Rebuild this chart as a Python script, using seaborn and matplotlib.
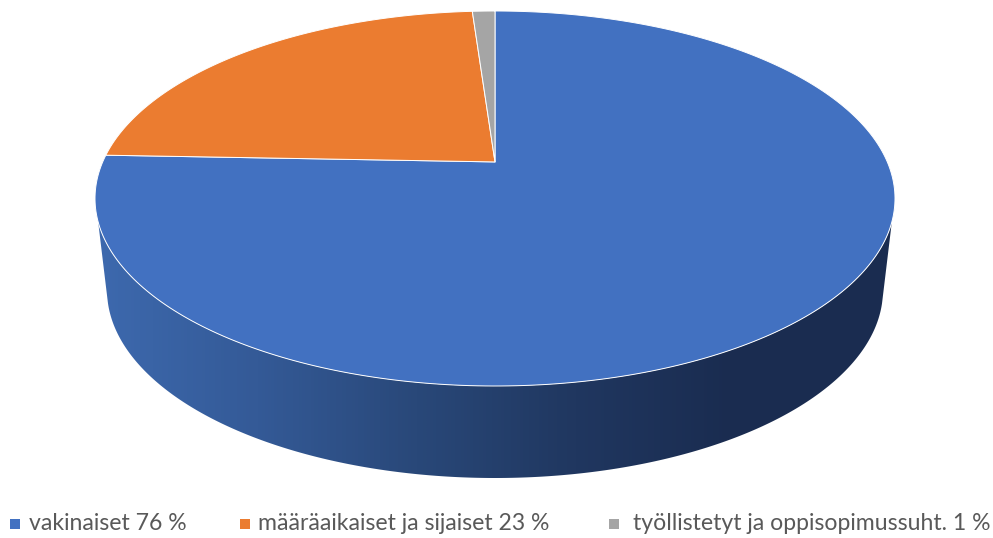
import numpy as np
import matplotlib
matplotlib.use('Agg')
import matplotlib.pyplot as plt
from matplotlib.patches import Polygon
import seaborn as sns

labels = ['vakinaiset 76 %', 'määräaikaiset ja sijaiset 23 %', 'työllistetyt ja oppisopimussuht. 1 %']
shares = [75.6, 23.3, 1.1]
colors = ['#4271C1', '#EB7C30', '#A5A5A5']

# gradient of the pie's outer wall, left to right
wall_colors = ['#3D69AE', '#345A97', '#294879', '#203760', '#1A2C50', '#1A2C50']

# geometry of the tilted pie, in pixels
CX, CY, A, B = 495, 198.5, 400, 187.5
CX2, CY2, A2, B2 = 495, 290, 388, 188
APEX = 0.195  # how far the pie centre sits above the middle of the ellipse


def project(t):
    # t clockwise from 12 o'clock, perspective keeps the rim on the ellipse
    x, y = np.sin(t), np.cos(t)
    d = 1 + APEX * y
    u = x * np.sqrt(1 - APEX ** 2) / d
    v = (y + APEX) / d
    return CX + A * u, CY - B * v


sns.set_theme(style='white')
plt.rcParams['font.family'] = ['Lato', 'DejaVu Sans']

fig = plt.figure(figsize=(9.93, 5.38), dpi=100)
ax = fig.add_axes([0, 0, 1, 1])
ax.axis('off')

# outer wall
s = np.linspace(0, np.pi, 400)
front_top_x = CX + A * np.cos(s)
front_top_y = CY + B * np.sin(s)
keep = front_top_y >= 221
bottom_x = CX2 - A2 * np.cos(s)
bottom_y = CY2 + B2 * np.sin(s)
keep2 = bottom_y >= 303
wall = Polygon(np.r_[np.c_[front_top_x[keep], front_top_y[keep]], np.c_[bottom_x[keep2], bottom_y[keep2]]],
               closed=True, transform=ax.transData, fc='none', ec='none')
ax.add_patch(wall)
cmap = sns.blend_palette(wall_colors, as_cmap=True)
im = ax.imshow(np.linspace(0, 1, 256).reshape(1, -1), cmap=cmap, aspect='auto',
               extent=[95, 895, 490, 200], interpolation='bilinear', zorder=1)
im.set_clip_path(wall)
ax.set_xlim(0, 993)
ax.set_ylim(538, 0)

# top face
edges = np.r_[0, np.cumsum(shares)] / np.sum(shares) * 2 * np.pi
for i, c in enumerate(colors):
    t = np.linspace(edges[i], edges[i + 1], 300)
    px, py = project(t)
    ax.fill(np.r_[CX, px], np.r_[CY - B * APEX, py], fc=c, ec='white', lw=0.7, zorder=2, joinstyle='round')

# legend
square_x = [15, 245, 614]
text_x = [29, 258, 633]
for c, lab, sx, tx in zip(colors, labels, square_x, text_x):
    ax.scatter([sx], [523.5], marker='s', s=62, color=c, linewidths=0, zorder=3)
    ax.text(tx, 523, lab, fontsize=16.6, color='#595959', va='center', ha='left')

fig.savefig('out.png', dpi=100)
